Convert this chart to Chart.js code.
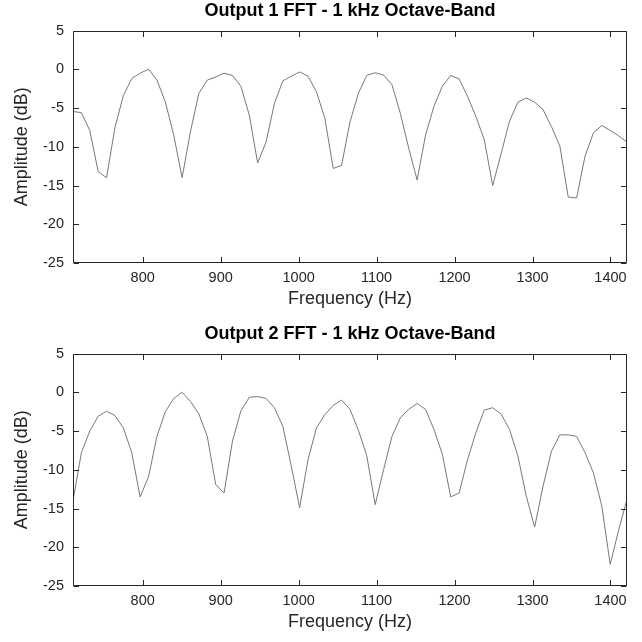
<!DOCTYPE html>
<html>
<head>
<meta charset="utf-8">
<style>
  html, body { margin: 0; padding: 0; background: #ffffff; overflow: hidden; }
  canvas { position: absolute; left: 0; }
  #c1 { top: 0px; }
  #c2 { top: 323px; }
</style>
<script src="https://cdn.jsdelivr.net/npm/chart.js@4.4.0/dist/chart.umd.min.js"></script>
</head>
<body>
<canvas id="c1" width="642" height="320"></canvas>
<canvas id="c2" width="642" height="320"></canvas>
<script>
// FFT bin frequencies (Hz)
const freqHz = [
  710.60, 721.36, 732.13, 742.90, 753.66, 764.43, 775.20, 785.96, 796.73, 807.50,
  818.26, 829.03, 839.79, 850.56, 861.33, 872.09, 882.86, 893.63, 904.39, 915.16,
  925.93, 936.69, 947.46, 958.23, 968.99, 979.76, 990.53, 1001.29, 1012.06, 1022.83,
  1033.59, 1044.36, 1055.13, 1065.89, 1076.66, 1087.43, 1098.19, 1108.96, 1119.73, 1130.49,
  1141.26, 1152.03, 1162.79, 1173.56, 1184.33, 1195.09, 1205.86, 1216.63, 1227.39, 1238.16,
  1248.93, 1259.69, 1270.46, 1281.23, 1291.99, 1302.76, 1313.53, 1324.29, 1335.06, 1345.83,
  1356.59, 1367.36, 1378.13, 1388.89, 1399.66, 1410.43, 1421.19
];

// Output 1 amplitude (dB)
const out1Db = [
  -5.45, -5.6, -7.9, -13.2, -14.0, -7.5, -3.4, -1.2, -0.5, 0.0,
  -1.4, -4.2, -8.5, -14.0, -8.0, -3.1, -1.4, -1.0, -0.5, -0.8,
  -2.2, -5.9, -12.1, -9.4, -4.4, -1.5, -0.9, -0.35, -0.9, -2.9,
  -6.3, -12.8, -12.4, -6.8, -3.1, -0.8, -0.45, -0.75, -2.0, -5.7,
  -10.2, -14.3, -8.5, -4.8, -2.2, -0.8, -1.25, -3.5, -6.1, -9.1,
  -15.0, -10.9, -6.7, -4.25, -3.7, -4.25, -5.2, -7.4, -9.9, -16.5,
  -16.6, -11.2, -8.2, -7.25, -7.9, -8.6, -9.4
];

// Output 2 amplitude (dB)
const out2Db = [
  -14.0, -7.8, -5.0, -3.1, -2.45, -3.0, -4.6, -7.8, -13.5, -10.9,
  -5.7, -2.5, -0.8, 0.0, -1.2, -2.8, -5.7, -11.9, -13.0, -6.3,
  -2.4, -0.65, -0.55, -0.8, -2.0, -4.4, -9.5, -14.9, -8.7, -4.6,
  -2.9, -1.7, -1.0, -2.2, -4.9, -8.2, -14.5, -10.0, -5.7, -3.3,
  -2.2, -1.45, -2.2, -4.8, -8.0, -13.5, -13.0, -8.7, -5.2, -2.3,
  -2.0, -2.8, -4.8, -8.2, -13.4, -17.4, -12.1, -7.6, -5.5, -5.5,
  -5.7, -7.8, -10.4, -14.7, -22.2, -17.8, -13.8
];

const xTickValues = [800, 900, 1000, 1100, 1200, 1300, 1400];
const yTickValues = [-25, -20, -15, -10, -5, 0, 5];
const titles = ['Output 1 FFT - 1 kHz Octave-Band', 'Output 2 FFT - 1 kHz Octave-Band'];
const xLabel = 'Frequency (Hz)';
const yLabel = 'Amplitude (dB)';

const FONT = '"Liberation Sans", Arial, Helvetica, sans-serif';
const AXIS_COLOR = '#262626';

const boxPlugin = {
  id: 'matlabBox',
  afterDatasetsDraw(chart) {
    const { ctx, chartArea: a, scales } = chart;
    const x = scales.x, y = scales.y;
    const L = Math.round(a.left) + 0.5, R = Math.round(a.right) - 0.5;
    const T = Math.round(a.top) + 0.5, B = Math.round(a.bottom) - 0.5;
    const tl = 5.5;
    ctx.save();
    ctx.strokeStyle = AXIS_COLOR;
    ctx.lineWidth = 1;
    ctx.beginPath();
    ctx.rect(L, T, R - L, B - T);
    x.ticks.forEach(t => {
      const px = Math.round(x.getPixelForValue(t.value)) + 0.5;
      ctx.moveTo(px, B); ctx.lineTo(px, B - tl);
      ctx.moveTo(px, T); ctx.lineTo(px, T + tl);
    });
    y.ticks.forEach(t => {
      const py = Math.round(y.getPixelForValue(t.value)) + 0.5;
      ctx.moveTo(L, py); ctx.lineTo(L + tl, py);
      ctx.moveTo(R, py); ctx.lineTo(R - tl, py);
    });
    ctx.stroke();
    ctx.restore();
  }
};

function makeChart(id, title, values) {
  const pts = freqHz.map((f, i) => ({ x: f, y: values[i] }));
  return new Chart(document.getElementById(id), {
    type: 'line',
    data: {
      datasets: [{
        data: pts,
        borderColor: 'rgb(120,120,120)',
        borderWidth: 1,
        pointRadius: 0,
        tension: 0,
        fill: false
      }]
    },
    options: {
      responsive: false,
      animation: false,
      devicePixelRatio: 1,
      layout: { padding: { left: 0, right: 15, top: 0, bottom: 0 } },
      plugins: {
        legend: { display: false },
        tooltip: { enabled: false },
        title: {
          display: true,
          fullSize: false,
          text: title,
          color: '#000000',
          font: { family: FONT, size: 18, weight: 'bold' },
          padding: { top: 0.5, bottom: 8.4 }
        }
      },
      scales: {
        x: {
          type: 'linear',
          min: freqHz[0],
          max: freqHz[freqHz.length - 1],
          afterBuildTicks: s => { s.ticks = xTickValues.map(v => ({ value: v })); },
          afterFit: s => { s.height = 57; },
          grid: { display: false, drawTicks: false },
          border: { display: false },
          ticks: {
            color: AXIS_COLOR,
            font: { family: FONT, size: 14.5 },
            padding: 6,
            maxRotation: 0,
            autoSkip: false,
            callback: v => String(v)
          },
          title: {
            display: true,
            text: xLabel,
            color: AXIS_COLOR,
            font: { family: FONT, size: 18 },
            padding: { top: 0, bottom: 10 }
          }
        },
        y: {
          type: 'linear',
          min: -25,
          max: 5,
          afterBuildTicks: s => { s.ticks = yTickValues.map(v => ({ value: v })); },
          afterFit: s => { s.width = 73; },
          grid: { display: false, drawTicks: false },
          border: { display: false },
          ticks: {
            color: AXIS_COLOR,
            font: { family: FONT, size: 14.5 },
            padding: 9,
            autoSkip: false,
            callback: v => String(v)
          },
          title: {
            display: true,
            text: yLabel,
            color: AXIS_COLOR,
            font: { family: FONT, size: 18 },
            padding: { top: 11, bottom: 0 }
          }
        }
      }
    },
    plugins: [boxPlugin]
  });
}

makeChart('c1', titles[0], out1Db);
makeChart('c2', titles[1], out2Db);
</script>
</body>
</html>
